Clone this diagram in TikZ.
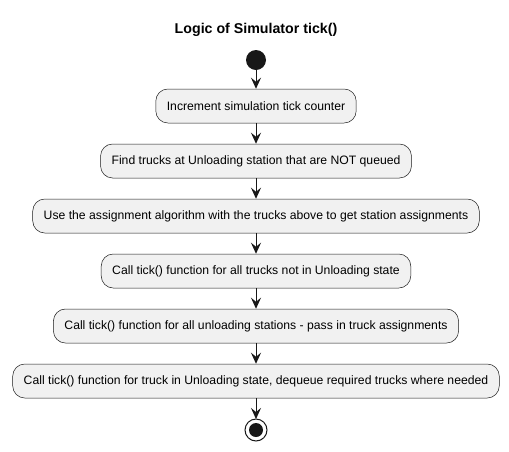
\documentclass[tikz,border=0pt]{standalone}
\usepackage{fontspec}
\setmainfont{Liberation Sans}
\usetikzlibrary{arrows.meta}

\definecolor{boxfill}{HTML}{F1F1F1}
\definecolor{lineblack}{HTML}{181818}

\tikzset{
    activity/.style = {draw = lineblack, fill = boxfill, rounded corners = 12pt, line width = 0.5pt,
        minimum height = 34pt, inner xsep = 11pt, font = \fontsize{12.2}{14}\selectfont},
    flow/.style = {draw = lineblack, line width = 1pt, -{Stealth[length = 11pt, width = 10pt, inset = 4pt]}}
}

\begin{document}
\begin{tikzpicture}[x = 1pt, y = 1pt]
        \useasboundingbox (0, 0) rectangle (509, -451);
        \node (title) at (256, -30) {\fontsize{14.2}{16}\selectfont\bfseries Logic of Simulator tick()};
        \fill[lineblack] (256, -60) circle (10);
        \coordinate (start) at (256, -70);
        \node[activity] (inc) at (256, -106) {Increment simulation tick counter};
        \node[activity] (find) at (256, -161) {Find trucks at Unloading station that are NOT queued};
        \node[activity] (assign) at (256, -216) {Use the assignment algorithm with the trucks above to get station assignments};
        \node[activity] (trucks) at (256, -271) {Call tick() function for all trucks not in Unloading state};
        \node[activity] (stations) at (256, -326) {Call tick() function for all unloading stations - pass in truck assignments};
        \node[activity] (unload) at (256, -381) {Call tick() function for truck in Unloading state, dequeue required trucks where needed};
        \draw[lineblack, line width = 1pt] (256, -430) circle (11);
        \fill[lineblack] (256, -430) circle (7);
        \coordinate (stop) at (256, -419);
        \draw[flow] (start) -- (inc);
        \draw[flow] (inc) -- (find);
        \draw[flow] (find) -- (assign);
        \draw[flow] (assign) -- (trucks);
        \draw[flow] (trucks) -- (stations);
        \draw[flow] (stations) -- (unload);
        \draw[flow] (unload) -- (stop);
    \end{tikzpicture}
\end{document}
